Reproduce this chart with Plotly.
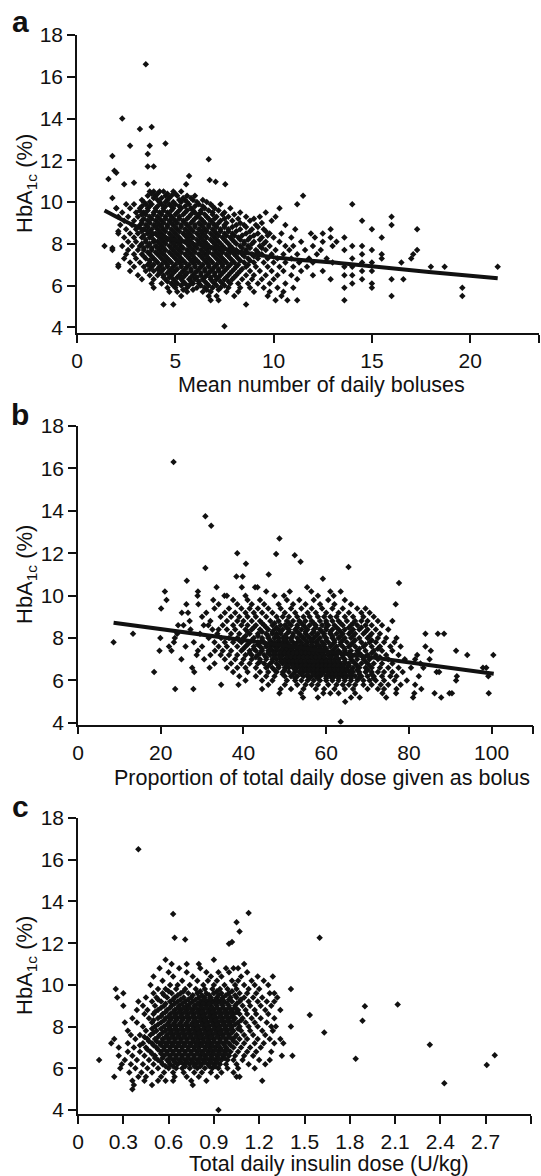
import plotly.graph_objects as go

W, H = 541, 1176

# ---------------- Panel a: HbA1c vs mean number of daily boluses ----------------
a_row_y = [10.5, 10.3, 10.1, 9.9, 9.7, 9.5, 9.3, 9.1, 8.9, 8.7, 8.5, 8.3, 8.1, 7.9,
           7.7, 7.5, 7.3, 7.1, 6.9, 6.7, 6.5, 6.3, 6.1, 5.9, 5.7, 5.5, 5.3, 5.1, 4.05]
a_row_x = [
    [3.7, 3.9, 4.2, 4.4, 4.9, 5.3],
    [3.6, 4.0, 4.5, 4.8, 5.1, 5.6, 6.0, 11.5],
    [3.3, 4.1, 4.6, 5.2, 5.5, 5.9, 6.4],
    [2.5, 2.9, 3.5, 3.8, 4.3, 4.7, 5.0, 5.7, 6.2, 6.8, 7.3, 11.2, 14.0],
    [2.0, 2.7, 3.2, 3.6, 4.0, 4.4, 4.9, 5.3, 5.8, 6.5, 7.0, 7.8, 10.3],
    [2.3, 3.0, 3.4, 3.9, 4.2, 4.6, 5.1, 5.5, 6.0, 6.3, 6.9, 7.5, 8.3, 9.6],
    [2.1, 2.6, 3.1, 3.7, 4.1, 4.5, 4.8, 5.2, 5.7, 6.1, 6.6, 7.1, 7.7, 8.6, 9.3, 10.1, 16.0],
    [2.4, 2.9, 3.3, 3.6, 4.0, 4.3, 4.7, 5.0, 5.4, 5.9, 6.4, 6.8, 7.3, 7.9, 8.8, 9.9, 14.5],
    [2.2, 2.8, 3.2, 3.5, 3.9, 4.2, 4.6, 4.9, 5.3, 5.6, 6.0, 6.3, 6.7, 7.0, 7.5, 8.1, 8.5, 9.1, 10.6, 16.0],
    [2.5, 3.0, 3.4, 3.8, 4.1, 4.4, 4.8, 5.1, 5.5, 5.8, 6.2, 6.5, 6.9, 7.3, 7.7, 8.3, 8.9, 9.5, 11.1, 12.9, 15.0, 17.3],
    [2.1, 2.7, 3.1, 3.6, 4.0, 4.3, 4.7, 5.0, 5.4, 5.7, 6.1, 6.4, 6.8, 7.1, 7.5, 7.9, 8.6, 9.2, 9.8, 10.4, 11.9, 12.5],
    [2.4, 2.9, 3.3, 3.7, 4.2, 4.5, 4.9, 5.2, 5.6, 5.9, 6.3, 6.6, 7.0, 7.4, 7.8, 8.2, 8.8, 9.4, 10.0, 10.9, 12.1, 12.9, 13.6, 15.5],
    [2.6, 3.0, 3.5, 3.9, 4.1, 4.4, 4.8, 5.1, 5.5, 5.8, 6.2, 6.5, 6.9, 7.2, 7.6, 8.0, 8.5, 9.0, 9.6, 10.3, 11.4, 12.5, 13.2],
    [2.3, 2.8, 3.2, 3.6, 4.0, 4.3, 4.7, 5.0, 5.3, 5.7, 6.0, 6.4, 6.7, 7.1, 7.4, 7.8, 8.3, 8.7, 9.3, 9.8, 10.6, 11.0, 12.0, 13.0, 14.0, 14.5],
    [1.8, 2.6, 3.1, 3.4, 3.8, 4.2, 4.5, 4.9, 5.2, 5.6, 5.9, 6.3, 6.6, 7.0, 7.3, 7.7, 8.1, 8.6, 9.1, 9.6, 10.1, 10.8, 11.6, 12.4, 13.6, 15.0, 17.3],
    [2.5, 2.9, 3.3, 3.7, 4.1, 4.4, 4.8, 5.1, 5.5, 5.8, 6.2, 6.5, 6.9, 7.2, 7.6, 8.0, 8.4, 8.9, 9.4, 9.9, 10.5, 11.2, 12.2, 14.5, 15.5, 17.1],
    [2.4, 3.0, 3.5, 3.9, 4.3, 4.6, 5.0, 5.3, 5.7, 6.0, 6.4, 6.7, 7.1, 7.4, 7.8, 8.2, 8.7, 9.2, 9.7, 10.2, 10.9, 11.8, 12.7, 14.0, 15.5, 17.0],
    [2.7, 3.2, 3.7, 4.1, 4.5, 4.8, 5.2, 5.5, 5.9, 6.2, 6.6, 6.9, 7.3, 7.6, 8.0, 8.5, 9.0, 9.5, 10.0, 10.6, 11.3, 12.0, 13.0, 14.5, 15.0, 16.5],
    [2.1, 2.9, 3.4, 3.8, 4.2, 4.6, 4.9, 5.3, 5.6, 6.0, 6.3, 6.7, 7.0, 7.4, 7.7, 8.1, 8.6, 9.1, 9.7, 10.3, 11.0, 11.7, 13.6, 14.0, 18.0, 18.7, 21.4],
    [2.7, 3.5, 3.9, 4.3, 4.7, 5.0, 5.4, 5.8, 6.1, 6.5, 6.8, 7.2, 7.5, 7.9, 8.3, 8.8, 9.3, 9.9, 10.5, 11.4, 12.5, 14.5, 15.0],
    [3.1, 3.7, 4.1, 4.4, 4.8, 5.2, 5.5, 5.9, 6.3, 6.6, 7.0, 7.3, 7.7, 8.1, 8.6, 9.0, 9.6, 10.2, 10.9, 12.0, 13.6, 14.0],
    [3.3, 3.9, 4.5, 4.9, 5.3, 5.7, 6.0, 6.4, 6.8, 7.1, 7.5, 7.9, 8.4, 8.9, 9.4, 10.0, 11.2, 12.9, 14.5, 16.0, 16.6],
    [3.8, 4.3, 4.8, 5.1, 5.5, 5.9, 6.2, 6.6, 7.0, 7.4, 7.8, 8.2, 8.7, 9.2, 9.8, 10.6, 14.0, 15.0],
    [3.9, 4.6, 5.0, 5.6, 6.1, 6.5, 6.9, 7.3, 7.7, 8.3, 8.8, 9.5, 10.2, 11.0, 13.6, 15.0, 19.6],
    [4.7, 5.1, 5.6, 6.4, 6.8, 7.6, 8.2, 9.0, 9.8, 10.5],
    [5.3, 6.7, 7.1, 8.0, 9.7, 10.4, 16.0, 19.6],
    [6.8, 7.2, 10.1, 10.7, 11.2, 13.6],
    [4.4, 4.9, 8.6],
    [7.5],
]
# denser core of panel a (rows between the ones above)
a_fill_y = [10.4, 10.2, 10.0, 9.8, 9.6, 9.4, 9.2, 9.0, 8.8, 8.6, 8.4, 8.2, 8.0, 7.8,
            7.6, 7.4, 7.2, 7.0, 6.8, 6.6, 6.4, 6.2, 6.0, 5.8]
a_fill_x = [
    [3.8, 4.1, 4.6, 5.0],
    [3.9, 4.3, 4.7, 5.4, 5.8],
    [3.4, 3.7, 4.2, 4.5, 4.9, 5.3, 5.6, 6.1, 6.6],
    [3.3, 3.7, 4.1, 4.5, 4.8, 5.2, 5.5, 6.0, 6.4, 6.9],
    [3.2, 3.6, 4.0, 4.4, 4.8, 5.2, 5.6, 5.9, 6.3, 6.7, 7.2],
    [3.3, 3.5, 3.9, 4.3, 4.7, 5.0, 5.4, 5.8, 6.2, 6.5, 6.9, 7.4, 8.0],
    [3.4, 3.8, 4.2, 4.5, 4.9, 5.2, 5.6, 6.0, 6.3, 6.7, 7.0, 7.5, 8.2, 9.0],
    [3.3, 3.7, 4.1, 4.4, 4.8, 5.1, 5.5, 5.8, 6.2, 6.5, 6.9, 7.2, 7.6, 8.3, 9.4],
    [3.6, 4.0, 4.3, 4.6, 5.0, 5.3, 5.7, 6.0, 6.4, 6.7, 7.1, 7.5, 7.9, 8.6, 9.2],
    [3.3, 3.7, 4.2, 4.5, 4.9, 5.2, 5.6, 5.9, 6.3, 6.6, 7.0, 7.3, 7.7, 8.1, 8.8, 9.6],
    [3.4, 3.8, 4.1, 4.4, 4.8, 5.1, 5.5, 5.8, 6.2, 6.5, 6.9, 7.2, 7.6, 8.0, 8.4, 9.0, 9.7],
    [3.5, 3.9, 4.3, 4.6, 5.0, 5.3, 5.7, 6.1, 6.4, 6.8, 7.1, 7.5, 7.9, 8.3, 8.7, 9.3],
    [3.3, 3.7, 4.2, 4.5, 4.9, 5.2, 5.6, 5.9, 6.3, 6.6, 7.0, 7.3, 7.7, 8.1, 8.5, 8.9, 9.5],
    [3.4, 3.8, 4.1, 4.4, 4.8, 5.1, 5.4, 5.8, 6.1, 6.5, 6.8, 7.2, 7.5, 7.9, 8.4, 8.8, 9.4],
    [3.6, 4.0, 4.3, 4.7, 5.0, 5.3, 5.7, 6.0, 6.4, 6.7, 7.1, 7.4, 7.8, 8.2, 8.6, 9.2],
    [3.4, 3.8, 4.2, 4.5, 4.9, 5.2, 5.6, 5.9, 6.3, 6.6, 7.0, 7.3, 7.7, 8.1, 8.5, 9.0],
    [3.7, 4.0, 4.4, 4.7, 5.1, 5.4, 5.8, 6.1, 6.5, 6.8, 7.2, 7.5, 7.9, 8.3, 8.8],
    [3.6, 3.9, 4.3, 4.6, 5.0, 5.3, 5.7, 6.0, 6.4, 6.7, 7.1, 7.4, 7.8, 8.2, 8.7],
    [3.7, 4.1, 4.4, 4.8, 5.1, 5.5, 5.8, 6.2, 6.5, 6.9, 7.2, 7.6, 8.0, 8.4],
    [4.2, 4.6, 4.9, 5.3, 5.6, 6.0, 6.3, 6.7, 7.0, 7.4, 7.8, 8.2],
    [4.4, 4.7, 5.1, 5.4, 5.8, 6.1, 6.5, 6.8, 7.2, 7.6, 8.0],
    [4.6, 5.0, 5.4, 5.8, 6.2, 6.5, 6.9, 7.3, 7.7],
    [4.9, 5.3, 5.7, 6.3, 6.7, 7.1, 7.5],
    [5.4, 5.9, 6.6, 7.2],
]
a_out_x = [3.5, 2.3, 3.2, 3.8, 4.5, 2.7, 3.7, 1.8, 3.6, 6.7, 1.9, 3.6, 3.9, 1.6, 5.7,
           6.75, 7.05, 7.54, 5.55, 2.4, 2.9, 3.6, 1.8, 1.4, 1.8, 2.0, 2.1, 2.1, 2.0]
a_out_y = [16.6, 14.0, 13.5, 13.6, 12.8, 12.7, 12.7, 12.2, 12.3, 12.05, 11.5, 11.7, 11.7, 11.1, 11.25,
           11.06, 10.97, 10.85, 10.85, 10.85, 10.93, 10.85, 10.2, 7.9, 7.8, 9.7, 8.6, 7.0, 11.4]
a_line_x = [1.4, 3.1, 4.9, 7.5, 10.1, 13.7, 17.9, 21.4]
a_line_y = [9.6, 8.8, 8.2, 7.75, 7.35, 7.05, 6.65, 6.35]

# ---------------- Panel b: HbA1c vs proportion of TDD given as bolus ----------------
b_row_y = [10.4, 10.2, 10.0, 9.8, 9.6, 9.4, 9.2, 9.0, 8.8, 8.6, 8.4, 8.2, 8.0, 7.8, 7.6,
           7.4, 7.2, 7.0, 6.8, 6.6, 6.4, 6.2, 6.0, 5.8, 5.6, 5.4, 5.2, 5.0, 4.05]
b_row_x = [
    [33.5, 39.6, 42.8, 43.4, 55.4],
    [21.0, 29.0, 45.5, 51.2, 56.4, 61.0, 63.5],
    [28.9, 35.4, 36.0, 40.5, 47.5, 49.8, 58.0, 61.8],
    [21.4, 32.7, 37.5, 41.0, 44.0, 50.5, 53.5, 57.0, 60.5, 64.5],
    [26.2, 29.1, 34.0, 38.5, 42.0, 45.0, 48.5, 52.0, 55.0, 58.5, 62.0, 66.0, 76.8],
    [20.1, 33.0, 36.5, 39.5, 41.5, 43.5, 46.0, 49.0, 51.5, 54.0, 56.5, 59.0, 61.5, 64.0, 67.5, 69.5],
    [25.1, 26.6, 31.0, 35.5, 38.0, 40.5, 42.5, 44.5, 47.0, 50.0, 52.5, 55.5, 57.5, 60.0, 63.0, 65.5, 68.5, 70.5],
    [30.0, 34.5, 37.0, 39.0, 41.0, 43.0, 45.5, 48.0, 49.5, 51.0, 53.0, 54.5, 56.0, 58.0, 59.5, 61.0, 62.5, 64.5, 66.5, 69.0, 71.5],
    [27.0, 32.0, 36.0, 38.5, 40.0, 42.0, 44.0, 46.5, 48.5, 50.5, 52.0, 53.5, 55.0, 56.5, 58.5, 60.0, 61.5, 63.0, 65.0, 67.0, 68.5, 70.0, 72.5, 76.0],
    [24.2, 25.5, 30.4, 31.5, 35.0, 37.5, 39.5, 41.0, 43.0, 45.0, 47.0, 49.0, 50.0, 51.5, 53.0, 54.5, 56.0, 57.5, 59.0, 60.5, 62.0, 64.0, 66.0, 67.5, 69.5, 71.0, 73.5],
    [27.2, 32.5, 34.0, 36.0, 38.0, 40.5, 42.0, 44.0, 46.0, 47.5, 48.5, 49.5, 51.0, 52.5, 54.0, 55.5, 57.0, 58.5, 60.0, 61.5, 63.0, 64.5, 66.5, 68.0, 70.0, 72.0, 75.0],
    [13.3, 24.0, 29.5, 33.7, 37.0, 39.0, 41.5, 43.5, 45.5, 47.0, 48.0, 49.0, 50.5, 52.0, 53.5, 55.0, 56.5, 58.0, 59.5, 61.0, 62.5, 64.0, 65.5, 67.0, 69.0, 71.0, 73.0, 84.0, 87.0, 88.5],
    [19.9, 23.4, 31.6, 34.6, 36.5, 38.5, 40.0, 42.5, 44.5, 46.0, 47.5, 48.5, 49.5, 50.5, 51.5, 53.0, 54.5, 56.0, 57.0, 58.5, 60.0, 61.5, 63.0, 64.5, 66.0, 68.0, 70.0, 72.5, 74.5, 77.0],
    [8.6, 23.2, 28.0, 33.0, 35.5, 37.5, 39.5, 41.5, 43.5, 45.0, 46.5, 47.5, 48.5, 49.5, 50.5, 52.0, 53.0, 54.0, 55.5, 56.5, 57.5, 59.0, 60.5, 62.0, 63.5, 65.0, 66.5, 68.5, 70.5, 72.0, 74.0, 76.5],
    [22.0, 26.0, 30.0, 34.0, 36.0, 38.5, 40.5, 42.5, 44.0, 45.5, 46.5, 47.5, 48.5, 49.5, 50.5, 51.5, 52.5, 53.5, 54.5, 55.5, 56.5, 57.5, 58.5, 59.5, 61.0, 62.5, 64.0, 65.5, 67.0, 69.0, 71.0, 73.0, 75.5, 78.0, 84.0],
    [19.7, 22.6, 29.0, 33.1, 35.0, 37.0, 39.5, 41.5, 43.0, 44.5, 46.0, 47.0, 48.0, 49.0, 50.0, 51.0, 52.0, 53.0, 54.0, 55.0, 56.0, 57.0, 58.0, 59.0, 60.0, 61.5, 63.0, 64.5, 66.0, 67.5, 69.5, 71.5, 73.5, 76.0, 85.3, 91.4],
    [28.7, 32.0, 34.5, 36.5, 38.5, 40.5, 42.0, 43.5, 45.0, 46.5, 47.5, 48.5, 49.5, 50.5, 51.5, 52.5, 53.5, 54.5, 55.5, 56.5, 57.5, 58.5, 59.5, 60.5, 61.5, 62.5, 64.0, 65.5, 67.0, 68.5, 70.0, 72.0, 74.5, 77.5, 82.0, 94.1, 100.4],
    [25.0, 30.5, 35.5, 38.0, 40.0, 42.0, 44.0, 45.5, 47.0, 48.0, 49.0, 50.0, 51.0, 52.0, 53.0, 54.0, 55.0, 56.0, 57.0, 58.0, 59.0, 60.0, 61.0, 62.0, 63.0, 64.5, 66.0, 67.5, 69.0, 70.5, 72.5, 75.0, 79.0, 81.5, 85.0],
    [33.0, 37.0, 39.5, 41.5, 43.5, 45.0, 46.5, 48.0, 49.5, 50.5, 51.5, 52.5, 53.5, 54.5, 55.5, 56.5, 57.5, 58.5, 59.5, 60.5, 61.5, 62.5, 63.5, 64.5, 65.5, 67.0, 68.5, 70.0, 71.5, 73.5, 76.0, 82.8],
    [27.6, 31.8, 36.0, 38.5, 40.5, 43.0, 45.5, 47.0, 48.5, 50.0, 51.0, 52.0, 53.0, 54.0, 55.0, 56.0, 57.0, 58.0, 59.0, 60.0, 61.0, 62.0, 63.0, 64.0, 65.0, 66.5, 68.0, 69.5, 71.0, 73.0, 75.0, 77.5, 80.5, 83.5, 97.9, 98.7],
    [18.4, 28.1, 37.5, 41.0, 44.0, 46.0, 48.0, 49.5, 51.0, 52.5, 53.5, 54.5, 55.5, 56.5, 57.5, 58.5, 59.5, 60.5, 61.5, 62.5, 63.5, 64.5, 65.5, 66.5, 68.0, 69.5, 71.0, 72.5, 74.0, 76.0, 78.5, 86.7, 87.3],
    [39.0, 43.0, 45.5, 47.5, 50.0, 51.5, 53.0, 54.5, 55.5, 56.5, 57.5, 58.5, 60.0, 61.0, 62.0, 63.0, 64.0, 65.0, 66.0, 67.0, 68.5, 70.0, 71.5, 73.5, 75.5, 77.0, 82.4, 91.6, 99.2],
    [40.5, 44.5, 47.0, 50.5, 52.5, 54.0, 55.5, 57.0, 58.5, 60.0, 61.5, 63.0, 64.5, 66.0, 67.5, 69.0, 70.5, 72.0, 74.0, 76.5, 79.5, 91.4],
    [34.6, 38.8, 46.0, 50.0, 53.0, 55.0, 56.5, 58.0, 60.5, 62.5, 64.0, 65.5, 67.0, 69.0, 71.0, 73.2, 75.0, 78.0, 81.5],
    [23.5, 27.9, 44.5, 49.0, 51.5, 54.5, 57.5, 59.5, 62.0, 64.5, 66.5, 70.0, 72.5, 74.0, 77.0, 83.0],
    [48.7, 53.9, 59.3, 61.0, 63.0, 67.0, 73.6, 76.9, 81.3, 86.2, 89.8, 90.4, 99.3],
    [54.4, 58.0, 66.0, 68.1, 74.5, 81.0, 87.8],
    [64.6],
    [63.5],
]
# denser core of panel b (rows between the ones above)
b_fill_y = [8.7, 8.5, 8.3, 8.1, 7.9, 7.7, 7.5, 7.3, 7.1, 6.9, 6.7, 6.5, 6.3, 6.1]
b_fill_x = [
    [44.5, 47.5, 51.0, 54.0, 57.0, 60.0, 63.5, 66.5],
    [42.5, 45.5, 48.0, 50.5, 53.0, 55.0, 57.5, 60.0, 62.5, 65.5, 68.5],
    [41.0, 44.5, 47.0, 49.0, 51.0, 53.0, 55.0, 57.0, 59.0, 61.0, 63.5, 66.0, 69.5],
    [40.5, 43.5, 46.0, 48.0, 50.0, 52.0, 54.0, 55.5, 57.5, 59.5, 61.5, 63.5, 66.5, 70.5],
    [39.0, 42.0, 44.5, 46.5, 48.5, 50.0, 51.5, 53.5, 55.0, 56.5, 58.0, 60.0, 62.0, 64.0, 67.0, 71.0],
    [41.0, 43.5, 45.5, 47.0, 48.5, 50.0, 51.0, 52.5, 54.0, 55.0, 56.5, 58.0, 59.5, 61.5, 63.5, 66.0, 69.5],
    [40.0, 42.5, 44.5, 46.5, 48.0, 49.5, 50.5, 51.5, 53.0, 54.5, 55.5, 57.0, 58.5, 60.0, 62.0, 64.5, 68.0, 72.5],
    [41.5, 44.0, 46.0, 47.5, 49.0, 50.0, 51.0, 52.0, 53.0, 54.0, 55.0, 56.0, 57.0, 58.0, 59.0, 60.5, 62.0, 63.5, 65.5, 68.0, 71.0],
    [43.0, 45.5, 47.5, 49.0, 50.5, 51.5, 52.5, 53.5, 54.5, 55.5, 56.5, 57.5, 58.5, 59.5, 61.0, 62.5, 64.0, 66.0, 69.0, 73.0],
    [44.0, 47.0, 49.0, 50.0, 51.0, 52.0, 53.0, 54.0, 55.0, 56.0, 57.0, 58.0, 59.0, 60.0, 61.0, 62.0, 63.0, 64.5, 66.5, 69.5],
    [46.0, 48.5, 50.5, 52.0, 53.0, 54.0, 55.0, 56.0, 57.0, 58.0, 59.0, 60.0, 61.0, 62.0, 63.0, 64.0, 65.5, 67.5, 70.5],
    [47.5, 50.0, 52.5, 54.0, 55.0, 56.0, 57.0, 58.0, 59.0, 60.0, 61.0, 62.0, 63.0, 64.0, 65.0, 66.0, 67.5, 70.0],
    [49.5, 52.0, 54.0, 55.5, 57.0, 58.0, 59.0, 60.5, 61.5, 62.5, 63.5, 64.5, 66.0, 68.0, 71.0],
    [52.5, 56.0, 58.0, 60.0, 61.5, 63.0, 64.5, 66.0, 68.0, 71.5],
]
b_out_x = [23.1, 30.8, 32.2, 38.5, 48.7, 47.9, 52.4, 53.8, 30.8, 40.6, 65.4, 26.3, 38.3, 39.8, 46.1, 59.2, 77.6]
b_out_y = [16.3, 13.75, 13.3, 12.0, 12.7, 11.96, 11.9, 11.6, 11.3, 11.5, 11.35, 10.7, 10.9, 10.9, 11.0, 10.8, 10.6]
b_line_x = [8.6, 100.5]
b_line_y = [8.72, 6.32]

# ---------------- Panel c: HbA1c vs total daily insulin dose ----------------
c_row_y = [11.0, 10.8, 10.6, 10.4, 10.2, 10.0, 9.8, 9.6, 9.4, 9.2, 9.0, 8.8, 8.6, 8.4, 8.2,
           8.0, 7.8, 7.6, 7.4, 7.2, 7.0, 6.8, 6.6, 6.4, 6.2, 6.0, 5.8, 5.6, 5.4, 5.2, 5.0, 4.0]
c_row_x = [
    [0.62, 0.72, 0.80, 1.10],
    [0.54, 0.67, 0.81, 0.98, 1.03, 1.06],
    [0.60, 0.72, 0.85, 0.93, 1.00, 1.12],
    [0.50, 0.63, 0.76, 0.88, 0.95, 1.08, 1.19, 1.29],
    [0.56, 0.69, 0.79, 0.86, 0.92, 1.02, 1.06, 1.15, 1.23],
    [0.48, 0.61, 0.66, 0.74, 0.83, 0.90, 0.97, 1.04, 1.10, 1.17, 1.26],
    [0.25, 0.53, 0.58, 0.65, 0.71, 0.78, 0.84, 0.89, 0.94, 0.99, 1.05, 1.13, 1.20, 1.41],
    [0.30, 0.50, 0.56, 0.62, 0.68, 0.73, 0.79, 0.85, 0.90, 0.95, 1.00, 1.07, 1.12, 1.18, 1.27, 1.30],
    [0.26, 0.45, 0.52, 0.59, 0.64, 0.70, 0.75, 0.80, 0.84, 0.88, 0.92, 0.96, 1.01, 1.05, 1.10, 1.16, 1.22, 1.32],
    [0.40, 0.49, 0.55, 0.61, 0.66, 0.71, 0.76, 0.81, 0.85, 0.89, 0.93, 0.97, 1.02, 1.07, 1.13, 1.19, 1.25, 1.30],
    [0.30, 0.43, 0.51, 0.57, 0.62, 0.67, 0.72, 0.77, 0.81, 0.85, 0.88, 0.92, 0.96, 1.00, 1.04, 1.09, 1.14, 1.21, 1.28],
    [0.39, 0.46, 0.53, 0.59, 0.64, 0.68, 0.72, 0.76, 0.80, 0.83, 0.87, 0.90, 0.94, 0.98, 1.02, 1.06, 1.11, 1.17, 1.24, 1.34],
    [0.44, 0.50, 0.56, 0.61, 0.65, 0.69, 0.73, 0.77, 0.81, 0.84, 0.88, 0.91, 0.95, 0.99, 1.03, 1.07, 1.12, 1.18, 1.26],
    [0.36, 0.47, 0.53, 0.58, 0.62, 0.66, 0.70, 0.74, 0.78, 0.82, 0.85, 0.89, 0.92, 0.96, 1.00, 1.04, 1.09, 1.15, 1.21, 1.30],
    [0.31, 0.39, 0.49, 0.55, 0.60, 0.64, 0.68, 0.72, 0.76, 0.79, 0.83, 0.86, 0.90, 0.93, 0.97, 1.01, 1.06, 1.11, 1.17, 1.25],
    [0.43, 0.51, 0.57, 0.61, 0.65, 0.69, 0.73, 0.77, 0.80, 0.84, 0.87, 0.91, 0.94, 0.98, 1.02, 1.07, 1.13, 1.19, 1.28, 1.31, 1.41],
    [0.33, 0.45, 0.52, 0.58, 0.62, 0.66, 0.70, 0.74, 0.78, 0.81, 0.85, 0.88, 0.92, 0.95, 0.99, 1.03, 1.08, 1.14, 1.22, 1.29],
    [0.35, 0.41, 0.48, 0.54, 0.59, 0.63, 0.67, 0.71, 0.75, 0.79, 0.82, 0.86, 0.89, 0.93, 0.96, 1.00, 1.05, 1.10, 1.16, 1.24],
    [0.24, 0.38, 0.46, 0.51, 0.56, 0.60, 0.64, 0.68, 0.72, 0.76, 0.80, 0.83, 0.87, 0.90, 0.94, 0.98, 1.02, 1.07, 1.12, 1.19, 1.27, 1.34],
    [0.22, 0.33, 0.43, 0.49, 0.54, 0.58, 0.62, 0.66, 0.70, 0.74, 0.78, 0.81, 0.85, 0.88, 0.92, 0.96, 1.00, 1.05, 1.10, 1.17, 1.23, 1.30, 1.36],
    [0.27, 0.37, 0.45, 0.52, 0.57, 0.61, 0.65, 0.69, 0.73, 0.77, 0.80, 0.84, 0.87, 0.91, 0.94, 0.98, 1.03, 1.08, 1.14, 1.21],
    [0.33, 0.41, 0.48, 0.55, 0.59, 0.63, 0.67, 0.71, 0.75, 0.79, 0.82, 0.86, 0.89, 0.93, 0.97, 1.01, 1.06, 1.12, 1.18, 1.28],
    [0.27, 0.36, 0.44, 0.51, 0.57, 0.61, 0.65, 0.69, 0.73, 0.77, 0.81, 0.84, 0.88, 0.92, 0.96, 1.00, 1.04, 1.10, 1.16, 1.35, 1.42],
    [0.14, 0.31, 0.39, 0.47, 0.53, 0.59, 0.63, 0.67, 0.71, 0.75, 0.79, 0.83, 0.87, 0.91, 0.95, 0.99, 1.03, 1.09, 1.20, 1.27],
    [0.29, 0.35, 0.43, 0.50, 0.56, 0.61, 0.66, 0.70, 0.74, 0.78, 0.82, 0.86, 0.90, 0.94, 0.98, 1.05, 1.13, 1.24],
    [0.28, 0.38, 0.46, 0.53, 0.60, 0.65, 0.69, 0.74, 0.79, 0.84, 0.89, 0.93, 0.99, 1.06, 1.17],
    [0.34, 0.42, 0.49, 0.57, 0.63, 0.70, 0.77, 0.82, 0.88, 0.95, 1.03],
    [0.24, 0.40, 0.45, 0.55, 0.64, 0.72, 0.80, 0.92, 1.05, 1.07],
    [0.36, 0.44, 0.53, 0.58, 0.63, 0.75, 0.85, 1.22],
    [0.37, 0.49, 0.76],
    [0.36],
    [0.93],
]
# denser core of panel c (rows between the ones above)
c_fill_y = [9.7, 9.5, 9.3, 9.1, 8.9, 8.7, 8.5, 8.3, 8.1, 7.9, 7.7, 7.5, 7.3, 7.1, 6.9, 6.7, 6.5, 6.3, 6.1]
c_fill_x = [
    [0.60, 0.70, 0.81, 0.92, 1.02],
    [0.57, 0.66, 0.76, 0.82, 0.87, 0.93, 0.98, 1.04],
    [0.53, 0.63, 0.68, 0.73, 0.78, 0.83, 0.87, 0.91, 0.95, 1.00, 1.08],
    [0.58, 0.64, 0.69, 0.74, 0.79, 0.83, 0.87, 0.91, 0.95, 0.99, 1.05],
    [0.55, 0.61, 0.66, 0.70, 0.74, 0.78, 0.82, 0.85, 0.89, 0.92, 0.96, 1.00, 1.04],
    [0.51, 0.58, 0.63, 0.67, 0.71, 0.75, 0.79, 0.82, 0.86, 0.89, 0.93, 0.97, 1.01, 1.05],
    [0.55, 0.60, 0.64, 0.68, 0.72, 0.76, 0.80, 0.83, 0.87, 0.90, 0.94, 0.98, 1.02],
    [0.50, 0.57, 0.61, 0.65, 0.69, 0.73, 0.77, 0.81, 0.84, 0.88, 0.91, 0.95, 0.99, 1.03, 1.08],
    [0.53, 0.59, 0.63, 0.67, 0.71, 0.75, 0.78, 0.82, 0.85, 0.89, 0.92, 0.96, 1.00, 1.04],
    [0.49, 0.55, 0.60, 0.64, 0.68, 0.72, 0.76, 0.79, 0.83, 0.86, 0.90, 0.93, 0.97, 1.01, 1.06],
    [0.50, 0.56, 0.61, 0.65, 0.69, 0.73, 0.77, 0.80, 0.84, 0.87, 0.91, 0.94, 0.98, 1.02],
    [0.44, 0.53, 0.58, 0.62, 0.66, 0.70, 0.74, 0.78, 0.81, 0.85, 0.88, 0.92, 0.96, 1.00, 1.04],
    [0.47, 0.52, 0.56, 0.60, 0.64, 0.68, 0.72, 0.76, 0.79, 0.83, 0.86, 0.90, 0.94, 0.98, 1.03],
    [0.41, 0.50, 0.55, 0.59, 0.63, 0.67, 0.71, 0.75, 0.79, 0.82, 0.86, 0.89, 0.93, 0.97, 1.01],
    [0.46, 0.53, 0.57, 0.61, 0.65, 0.69, 0.73, 0.77, 0.80, 0.84, 0.88, 0.91, 0.95, 0.99],
    [0.49, 0.55, 0.59, 0.63, 0.67, 0.71, 0.75, 0.79, 0.83, 0.86, 0.90, 0.94, 0.98],
    [0.51, 0.56, 0.61, 0.65, 0.69, 0.73, 0.77, 0.81, 0.85, 0.89, 0.93, 0.97],
    [0.55, 0.60, 0.64, 0.68, 0.72, 0.76, 0.80, 0.84, 0.88, 0.92],
    [0.58, 0.63, 0.71, 0.77, 0.81, 0.87, 0.91],
]
c_out_x = [0.40, 0.63, 0.64, 0.71, 1.00, 1.02, 1.05, 1.07, 1.13, 1.60, 0.58, 0.90,
           1.535, 1.631, 1.839, 1.884, 1.90, 2.117, 2.33, 2.426, 2.707, 2.76]
c_out_y = [16.5, 13.4, 12.26, 12.18, 11.97, 12.05, 13.0, 12.56, 13.44, 12.26, 11.2, 11.2,
           8.55, 7.72, 6.46, 8.28, 8.98, 9.06, 7.13, 5.29, 6.16, 6.63]


def expand(groups, out_x, out_y):
    xs, ys = [], []
    for row_y, row_x in groups:
        for y, row in zip(row_y, row_x):
            for x in row:
                xs.append(x)
                ys.append(y)
    return xs + list(out_x), ys + list(out_y)


ax_, ay_ = expand([(a_row_y, a_row_x), (a_fill_y, a_fill_x)], a_out_x, a_out_y)
bx_, by_ = expand([(b_row_y, b_row_x), (b_fill_y, b_fill_x)], b_out_x, b_out_y)
cx_, cy_ = expand([(c_row_y, c_row_x), (c_fill_y, c_fill_x)], c_out_x, c_out_y)

INK = "#111111"
FONT = "Liberation Sans, Arial, Helvetica, sans-serif"
marker = dict(symbol="diamond", size=5, color=INK, line=dict(width=0))

fig = go.Figure()
fig.add_trace(go.Scatter(x=ax_, y=ay_, mode="markers", marker=marker, xaxis="x", yaxis="y"))
fig.add_trace(go.Scatter(x=a_line_x, y=a_line_y, mode="lines", line=dict(color=INK, width=4, shape="spline"),
                         xaxis="x", yaxis="y"))
fig.add_trace(go.Scatter(x=bx_, y=by_, mode="markers", marker=marker, xaxis="x2", yaxis="y2"))
fig.add_trace(go.Scatter(x=b_line_x, y=b_line_y, mode="lines", line=dict(color=INK, width=4),
                         xaxis="x2", yaxis="y2"))
fig.add_trace(go.Scatter(x=cx_, y=cy_, mode="markers", marker=marker, xaxis="x3", yaxis="y3"))


def px_x(p):
    return p / W


def px_y(p):
    return 1 - p / H


y_ticks = [4, 6, 8, 10, 12, 14, 16, 18]
a_xticks = [0, 5, 10, 15, 20, 23.5]
a_xtext = ["0", "5", "10", "15", "20", ""]
b_xticks = [0, 20, 40, 60, 80, 100, 110]
b_xtext = ["0", "20", "40", "60", "80", "100", ""]
c_xticks = [0, 0.3, 0.6, 0.9, 1.2, 1.5, 1.8, 2.1, 2.4, 2.7, 3.0]
c_xtext = ["0", "0.3", "0.6", "0.9", "1.2", "1.5", "1.8", "2.1", "2.4", "2.7", ""]

tickfont = dict(family=FONT, size=21, color=INK)
common = dict(showline=True, linecolor=INK, linewidth=1.5, ticks="outside", ticklen=8,
              tickwidth=1.5, tickcolor=INK, showgrid=False, zeroline=False, tickfont=tickfont,
              automargin=False)

panels = [
    # x domain px, y top px, y bottom px, x range, y range, ticks
    (77, 539, 35, 333.2, [0, 23.5], [3.72, 18], a_xticks, a_xtext),
    (78, 533, 426, 724.6, [0, 110], [3.92, 18], b_xticks, b_xtext),
    (78, 531, 818, 1114, [0, 3.0], [3.81, 18], c_xticks, c_xtext),
]
layout = {}
for i, (x0, x1, yt, yb, xr, yr, xt, xtt) in enumerate(panels):
    s = "" if i == 0 else str(i + 1)
    layout["xaxis" + s] = dict(domain=[px_x(x0), px_x(x1)], range=xr, anchor="y" + s,
                               tickmode="array", tickvals=xt, ticktext=xtt, **common)
    layout["yaxis" + s] = dict(domain=[px_y(yb), px_y(yt)], range=yr, anchor="x" + s,
                               tickmode="array", tickvals=y_ticks,
                               ticktext=[str(v) for v in y_ticks], **common)

fig.update_layout(**layout)

titles = [
    ("Mean number of daily boluses", 321, 385),
    ("Proportion of total daily dose given as bolus", 322, 778),
    ("Total daily insulin dose (U/kg)", 329, 1164),
]
ann = []
for text, cx, cy in titles:
    ann.append(dict(text=text, x=px_x(cx), y=px_y(cy), xref="paper", yref="paper",
                    showarrow=False, xanchor="center", yanchor="middle",
                    font=dict(family=FONT, size=21.5, color=INK)))
for cy in [184, 575, 966]:
    ann.append(dict(text="HbA<sub>1c</sub> (%)", x=px_x(26), y=px_y(cy), xref="paper", yref="paper",
                    showarrow=False, xanchor="center", yanchor="middle", textangle=-90,
                    font=dict(family=FONT, size=22, color=INK)))
for letter, cy in [("a", 22), ("b", 414), ("c", 806)]:
    ann.append(dict(text="<b>" + letter + "</b>", x=px_x(20), y=px_y(cy), xref="paper", yref="paper",
                    showarrow=False, xanchor="center", yanchor="middle",
                    font=dict(family=FONT, size=30, color=INK)))

fig.update_layout(width=W, height=H, margin=dict(l=0, r=0, t=0, b=0),
                  paper_bgcolor="white", plot_bgcolor="white", showlegend=False,
                  annotations=ann)

fig.write_html("out.html", config={"displayModeBar": False},
               post_script="document.body.style.margin='0px';document.body.style.padding='0px';")
